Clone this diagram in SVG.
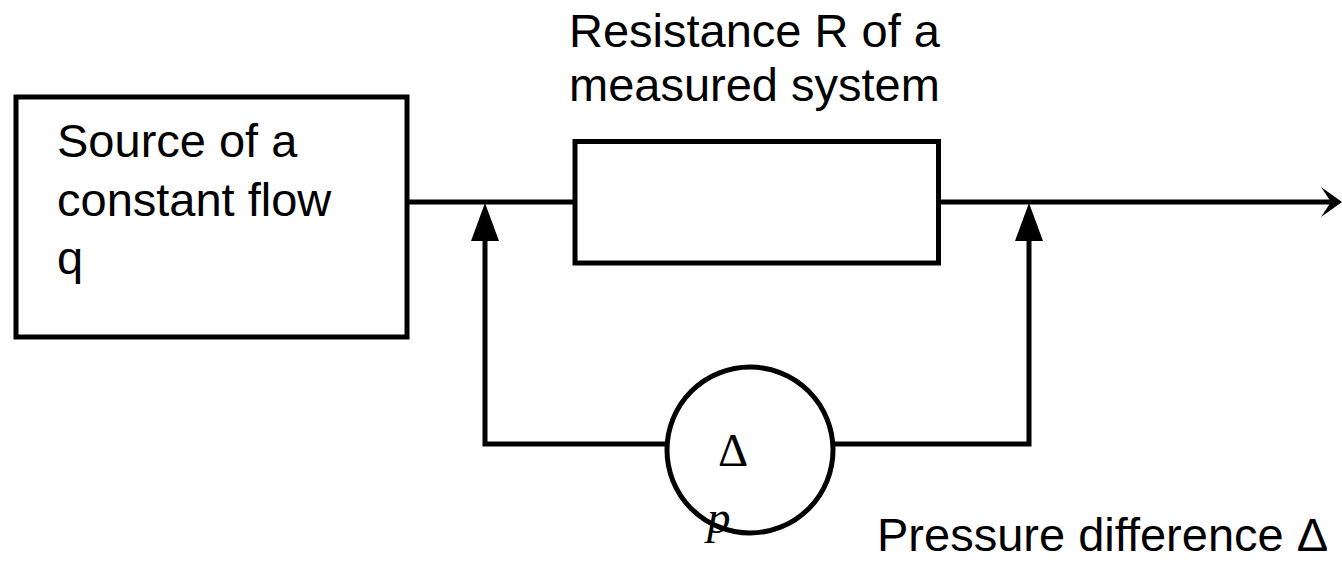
<svg xmlns="http://www.w3.org/2000/svg" width="1342" height="562" viewBox="0 0 1342 562">
<style>
.box{fill:#fff;stroke:#000;stroke-width:5}
.ln{fill:none;stroke:#000;stroke-width:5}
.t{font-family:"Liberation Sans",Arial,sans-serif;font-size:47px;fill:#000}
.s{font-family:"Liberation Serif","Times New Roman",serif;font-size:47px;fill:#000}
.head{fill:#000}
</style>
<rect width="1342" height="562" fill="#fff"/>
<g id="connectors">
<line class="ln" x1="407" y1="202" x2="575" y2="202"/>
<line class="ln" x1="938" y1="202" x2="1332" y2="202"/>
<polygon class="head" points="1342,202 1321,187 1331,202 1321,217"/>
<polyline class="ln" points="667,444 485,444 485,238"/>
<polygon class="head" points="485,203 499,241 471,241"/>
<polyline class="ln" points="833,444 1029,444 1029,238"/>
<polygon class="head" points="1029,203 1043,241 1015,241"/>
</g>
<g id="source">
<rect class="box" x="16" y="97" width="391" height="240"/>
<text class="t" x="57" y="157">Source of a</text>
<text class="t" x="57" y="216">constant flow</text>
<text class="t" x="57" y="274">q</text>
</g>
<g id="resistance">
<rect class="box" x="575" y="141.5" width="363.5" height="121.5"/>
<text class="t" x="569" y="47">Resistance R of a</text>
<text class="t" x="569" y="101">measured system</text>
</g>
<g id="gauge">
<circle class="box" cx="750" cy="450" r="83"/>
<text class="s" x="718" y="466">Δ</text>
<text class="s" x="707" y="533" font-size="50" font-style="italic">p</text>
</g>
<g id="pressure-label">
<text class="t" x="877" y="551">Pressure difference Δ</text>
</g>
</svg>
